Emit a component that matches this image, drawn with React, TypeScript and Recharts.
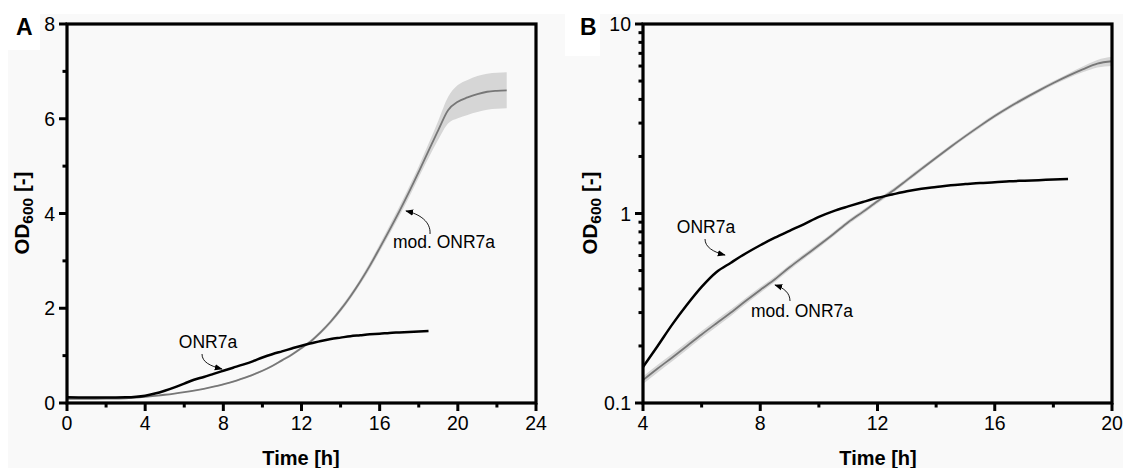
import { Area, ComposedChart, Line, XAxis, YAxis } from "recharts"

const hours = [0, 1, 2, 3, 4, 4.5, 5, 5.5, 6, 6.5, 7, 7.5, 8, 8.5, 9, 9.5, 10, 10.5, 11, 11.5, 12, 12.5, 13, 13.5, 14, 14.5, 15, 15.5, 16, 16.5, 17, 17.5, 18, 18.5, 19, 19.5, 20, 20.5, 21, 21.5, 22, 22.5]

const onr7a = [0.12, 0.115, 0.115, 0.12, 0.155, 0.2, 0.26, 0.33, 0.41, 0.49, 0.55, 0.615, 0.68, 0.745, 0.81, 0.88, 0.96, 1.03, 1.09, 1.15, 1.21, 1.26, 1.31, 1.35, 1.38, 1.41, 1.43, 1.45, 1.46, 1.48, 1.49, 1.5, 1.51, 1.52, null, null, null, null, null, null, null, null]

const modOnr7a = [0.085, 0.088, 0.092, 0.1, 0.132, 0.152, 0.174, 0.2, 0.23, 0.263, 0.3, 0.345, 0.395, 0.45, 0.52, 0.595, 0.68, 0.78, 0.9, 1.02, 1.16, 1.31, 1.5, 1.72, 1.97, 2.25, 2.56, 2.9, 3.27, 3.65, 4.04, 4.45, 4.88, 5.32, 5.76, 6.18, 6.36, 6.45, 6.52, 6.57, 6.59, 6.6]

// standard deviation of the modified strain (shaded band)
const modSd = [0.005, 0.005, 0.005, 0.005, 0.006, 0.007, 0.008, 0.009, 0.01, 0.011, 0.012, 0.013, 0.014, 0.015, 0.016, 0.018, 0.02, 0.022, 0.025, 0.028, 0.03, 0.035, 0.04, 0.045, 0.05, 0.055, 0.06, 0.07, 0.08, 0.09, 0.1, 0.11, 0.12, 0.15, 0.2, 0.28, 0.35, 0.37, 0.38, 0.38, 0.38, 0.38]

const xTicksA = [0, 2, 4, 6, 8, 10, 12, 14, 16, 18, 20, 22, 24]
const yTicksA = [0, 1, 2, 3, 4, 5, 6, 7, 8]
const xTicksB = [4, 6, 8, 10, 12, 14, 16, 18, 20]
const yTicksB = [0.1, 0.2, 0.3, 0.4, 0.5, 0.6, 0.7, 0.8, 0.9, 1, 2, 3, 4, 5, 6, 7, 8, 9, 10]
const yMajorB = [0.1, 1, 10]

const rows = hours.map((t, i) => ({
  t,
  onr: onr7a[i],
  mod: modOnr7a[i],
  band: [modOnr7a[i] - modSd[i], modOnr7a[i] + modSd[i]],
}))
const rowsB = rows.filter((r) => r.t >= 4 && r.t <= 20)

const FONT = "'Liberation Sans', Arial, sans-serif"
const BG = "#f9f9f9"

// plot boxes (chart margins + axis sizes below give these)
const boxA = { left: 67, top: 24, width: 469, height: 379 }
const boxB = { left: 643, top: 24, width: 469, height: 379 }

type Side = "bottom" | "top" | "left" | "right"

function makeTick(side: Side, isMajor: (v: number) => boolean, showLabel: boolean) {
  return (props: any) => {
    const { x, y, payload } = props
    const v = payload.value
    const major = isMajor(v)
    const len = major ? 8 : 4.5
    const ln = { stroke: "#000", strokeWidth: 3 }
    let line
    if (side === "bottom") line = <line x1={x} x2={x} y1={y} y2={y + len} {...ln} />
    else if (side === "top") line = <line x1={x} x2={x} y1={y} y2={y - len} {...ln} />
    else if (side === "left") line = <line x1={x} x2={x - len} y1={y} y2={y} {...ln} />
    else line = <line x1={x} x2={x + len} y1={y} y2={y} {...ln} />
    return (
      <g>
        {line}
        {showLabel && major && side === "bottom" && (
          <text x={x} y={y + 27} textAnchor="middle" fill="#000" fontSize={19.5} fontFamily={FONT}>
            {v}
          </text>
        )}
        {showLabel && major && side === "left" && (
          <text x={x - 12} y={y + 7} textAnchor="end" fill="#000" fontSize={19.5} fontFamily={FONT}>
            {String(v)}
          </text>
        )}
      </g>
    )
  }
}

const axisCommon = { axisLine: false, tickLine: false, tickSize: 0, tickMargin: 0, interval: 0 as const }

function PanelA() {
  const xMajor = (v: number) => v % 4 === 0
  const yMajor = (v: number) => v % 2 === 0
  return (
    <ComposedChart
      width={560}
      height={468}
      data={rows}
      margin={{ top: 24, right: 24, left: 0, bottom: 0 }}
      style={{ position: "absolute", left: 0, top: 0 }}
    >
      <XAxis dataKey="t" type="number" domain={[0, 24]} ticks={xTicksA} height={65} {...axisCommon} tick={makeTick("bottom", xMajor, true)} />
      <XAxis xAxisId="top" orientation="top" dataKey="t" type="number" domain={[0, 24]} ticks={xTicksA} height={0} {...axisCommon} tick={makeTick("top", xMajor, false)} />
      <YAxis type="number" domain={[0, 8]} ticks={yTicksA} width={67} {...axisCommon} tick={makeTick("left", yMajor, true)} />
      <YAxis yAxisId="right" orientation="right" type="number" domain={[0, 8]} ticks={yTicksA} width={0} {...axisCommon} tick={makeTick("right", yMajor, false)} />
      <Area dataKey="band" type="monotone" stroke="none" fill="#d6d6d6" fillOpacity={1} isAnimationActive={false} />
      <Line dataKey="mod" type="monotone" stroke="#777" strokeWidth={1.8} dot={false} isAnimationActive={false} />
      <Line dataKey="onr" type="monotone" stroke="#000" strokeWidth={2.5} dot={false} isAnimationActive={false} />
    </ComposedChart>
  )
}

function PanelB() {
  const xMajor = (v: number) => v % 4 === 0
  const yMajor = (v: number) => yMajorB.includes(v)
  return (
    <ComposedChart
      width={563}
      height={468}
      data={rowsB}
      margin={{ top: 24, right: 11, left: 0, bottom: 0 }}
      style={{ position: "absolute", left: 560, top: 0 }}
    >
      <XAxis dataKey="t" type="number" domain={[4, 20]} ticks={xTicksB} height={65} {...axisCommon} tick={makeTick("bottom", xMajor, true)} />
      <XAxis xAxisId="top" orientation="top" dataKey="t" type="number" domain={[4, 20]} ticks={xTicksB} height={0} {...axisCommon} tick={makeTick("top", xMajor, false)} />
      <YAxis type="number" scale="log" domain={[0.1, 10]} allowDataOverflow ticks={yTicksB} width={83} {...axisCommon} tick={makeTick("left", yMajor, true)} />
      <YAxis yAxisId="right" orientation="right" type="number" scale="log" domain={[0.1, 10]} allowDataOverflow ticks={yTicksB} width={0} {...axisCommon} tick={makeTick("right", yMajor, false)} />
      <Area dataKey="band" type="monotone" stroke="none" fill="#d6d6d6" fillOpacity={1} isAnimationActive={false} />
      <Line dataKey="mod" type="monotone" stroke="#777" strokeWidth={1.8} dot={false} isAnimationActive={false} />
      <Line dataKey="onr" type="monotone" stroke="#000" strokeWidth={2.5} dot={false} isAnimationActive={false} />
    </ComposedChart>
  )
}

function OdLabel({ x, y }: { x: number; y: number }) {
  return (
    <text transform={`translate(${x},${y}) rotate(-90)`} textAnchor="middle" fontFamily={FONT} fontWeight="bold" fontSize={20.5}>
      <tspan>OD</tspan>
      <tspan fontSize={15.5} dy={4}>600</tspan>
      <tspan dy={-4}> [-]</tspan>
    </text>
  )
}

function Overlay() {
  const note = { fontFamily: FONT, fontSize: 17.5, fill: "#000" }
  const arrow = { fill: "none", stroke: "#000", strokeWidth: 0.9, markerEnd: "url(#head)" }
  const frame = { fill: "none", stroke: "#000", strokeWidth: 3.2, strokeLinejoin: "miter" as const }
  return (
    <svg width={1123} height={468} style={{ position: "absolute", left: 0, top: 0, pointerEvents: "none" }}>
      <defs>
        <marker id="head" viewBox="0 0 10 10" refX={9} refY={5} markerWidth={8} markerHeight={8} orient="auto" markerUnits="userSpaceOnUse">
          <path d="M0,1 L10,5 L0,9 Z" fill="#000" />
        </marker>
      </defs>
      <rect x={boxA.left} y={boxA.top} width={boxA.width} height={boxA.height} {...frame} />
      <rect x={boxB.left} y={boxB.top} width={boxB.width} height={boxB.height} {...frame} />

      <text x={16} y={35} fontFamily={FONT} fontWeight="bold" fontSize={23}>A</text>
      <text x={580} y={35} fontFamily={FONT} fontWeight="bold" fontSize={23}>B</text>
      <OdLabel x={29} y={213} />
      <OdLabel x={597} y={213} />
      <text x={301} y={465} textAnchor="middle" fontFamily={FONT} fontWeight="bold" fontSize={20}>Time [h]</text>
      <text x={878} y={465} textAnchor="middle" fontFamily={FONT} fontWeight="bold" fontSize={20}>Time [h]</text>

      <text x={208} y={348} textAnchor="middle" {...note}>ONR7a</text>
      <path d="M202,354 C202,362 210,366 222,369" {...arrow} />
      <text x={444} y={248} textAnchor="middle" {...note}>mod. ONR7a</text>
      <path d="M430,234 C431,222 420,214 406,211" {...arrow} />

      <text x={706} y={233} textAnchor="middle" {...note}>ONR7a</text>
      <path d="M705,239 C705,247 713,252 725,255" {...arrow} />
      <text x={802} y={317} textAnchor="middle" {...note}>mod. ONR7a</text>
      <path d="M790,301 C790,293 784,288 775,285" {...arrow} />
    </svg>
  )
}

export default function App() {
  return (
    <div style={{ position: "absolute", left: 0, top: 0, width: 1123, height: 468, background: "#fff", overflow: "hidden" }}>
      <div style={{ position: "absolute", left: 8, top: 14, right: 0, bottom: 0, background: BG }} />
      <div style={{ position: "absolute", left: 0, top: 0, width: 40, height: 50, background: "#fff" }} />
      <div style={{ position: "absolute", left: 565, top: 0, width: 35, height: 56, background: "#fff" }} />
      <PanelA />
      <PanelB />
      <Overlay />
    </div>
  )
}
